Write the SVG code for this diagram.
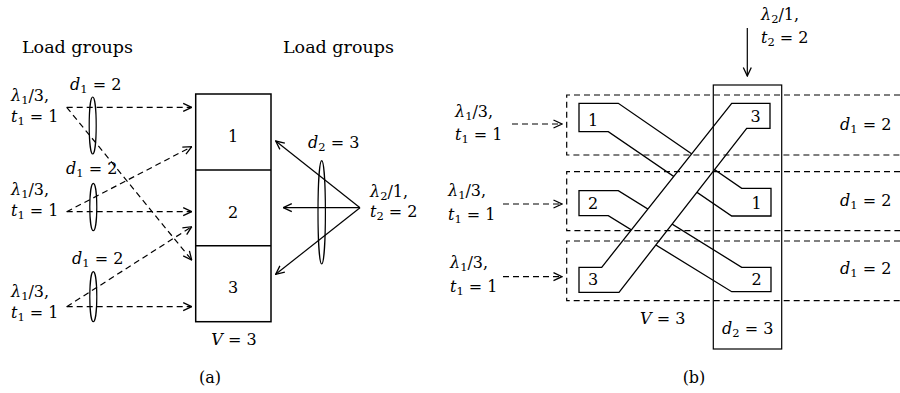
<svg xmlns="http://www.w3.org/2000/svg" width="900" height="393" viewBox="0 0 900 393">
<defs>
<style>
text{font-family:"DejaVu Serif","Liberation Serif",serif;font-size:16px;fill:#000}
.lg{font-size:17.5px}
.i{font-style:italic}
.s{font-size:11.5px;font-style:normal}
.d{fill:none;stroke:#000;stroke-width:1.2;stroke-dasharray:6,4}
.l{fill:none;stroke:#000;stroke-width:1.2}
.b{fill:#fff;stroke:#000;stroke-width:1.3}
.r{fill:none;stroke:#000;stroke-width:1.5}
.e{fill:none;stroke:#000;stroke-width:1.2}
</style>
<marker id="ah" viewBox="0 0 10 10" refX="9.5" refY="5" markerWidth="10" markerHeight="10" markerUnits="userSpaceOnUse" orient="auto">
<path d="M1,1 L9.5,5 L1,9" fill="none" stroke="#000" stroke-width="1.3" stroke-dasharray="none"/>
</marker>
</defs>
<rect width="900" height="393" fill="#fff"/>

<!-- Panel (a) -->
<g id="a-labels">
<text class="lg" x="22" y="53">Load groups</text>
<text class="lg" x="283" y="53">Load groups</text>
<text x="210" y="383" text-anchor="middle">(a)</text>
</g>
<g id="a-group1">
<text x="11" y="101"><tspan class="i">λ</tspan><tspan class="s" dy="3">1</tspan><tspan dy="-3">/3,</tspan></text>
<text x="11" y="122"><tspan class="i">t</tspan><tspan class="s" dy="3">1</tspan><tspan dy="-3"> = 1</tspan></text>
<text x="70" y="90"><tspan class="i">d</tspan><tspan class="s" dy="3">1</tspan><tspan dy="-3"> = 2</tspan></text>
<ellipse class="e" cx="92.7" cy="125.5" rx="3.5" ry="28.5"/>
</g>
<g id="a-group2">
<text x="11" y="195"><tspan class="i">λ</tspan><tspan class="s" dy="3">1</tspan><tspan dy="-3">/3,</tspan></text>
<text x="11" y="216"><tspan class="i">t</tspan><tspan class="s" dy="3">1</tspan><tspan dy="-3"> = 1</tspan></text>
<text x="66" y="174"><tspan class="i">d</tspan><tspan class="s" dy="3">1</tspan><tspan dy="-3"> = 2</tspan></text>
<ellipse class="e" cx="93.3" cy="207" rx="3.5" ry="23.7"/>
</g>
<g id="a-group3">
<text x="11" y="297"><tspan class="i">λ</tspan><tspan class="s" dy="3">1</tspan><tspan dy="-3">/3,</tspan></text>
<text x="11" y="318"><tspan class="i">t</tspan><tspan class="s" dy="3">1</tspan><tspan dy="-3"> = 1</tspan></text>
<text x="72" y="264"><tspan class="i">d</tspan><tspan class="s" dy="3">1</tspan><tspan dy="-3"> = 2</tspan></text>
<ellipse class="e" cx="93.3" cy="296.7" rx="3.5" ry="25"/>
</g>
<g id="a-servers">
<rect class="r" x="195.7" y="94" width="75.3" height="227.7"/>
<line class="r" x1="195.7" y1="170" x2="271" y2="170"/>
<line class="r" x1="195.7" y1="245.7" x2="271" y2="245.7"/>
<text x="233" y="142" text-anchor="middle">1</text>
<text x="233" y="218" text-anchor="middle">2</text>
<text x="233" y="293" text-anchor="middle">3</text>
<text x="234" y="345" text-anchor="middle"><tspan class="i">V</tspan> = 3</text>
</g>
<g id="a-group4">
<text x="370" y="197"><tspan class="i">λ</tspan><tspan class="s" dy="3">2</tspan><tspan dy="-3">/1,</tspan></text>
<text x="370" y="217"><tspan class="i">t</tspan><tspan class="s" dy="3">2</tspan><tspan dy="-3"> = 2</tspan></text>
<text x="308" y="148"><tspan class="i">d</tspan><tspan class="s" dy="3">2</tspan><tspan dy="-3"> = 3</tspan></text>
<ellipse class="e" cx="321.7" cy="212.3" rx="3.7" ry="51.7"/>
</g>
<g id="a-connectors">
<line class="d" x1="66.7" y1="107.3" x2="191.7" y2="107.3" marker-end="url(#ah)"/>
<line class="d" x1="66.7" y1="107.3" x2="191.7" y2="260" marker-end="url(#ah)"/>
<line class="d" x1="66.7" y1="211.7" x2="191.7" y2="211.7" marker-end="url(#ah)"/>
<line class="d" x1="66.7" y1="211.7" x2="191.7" y2="146.7" marker-end="url(#ah)"/>
<line class="d" x1="66.7" y1="306.7" x2="191.7" y2="306.7" marker-end="url(#ah)"/>
<line class="d" x1="66.7" y1="306.7" x2="191.7" y2="226.7" marker-end="url(#ah)"/>
<line class="l" x1="360" y1="207.7" x2="275.7" y2="141" marker-end="url(#ah)"/>
<line class="l" x1="360" y1="207.7" x2="283.3" y2="207.7" marker-end="url(#ah)"/>
<line class="l" x1="360" y1="207.7" x2="275.7" y2="274.3" marker-end="url(#ah)"/>
</g>

<!-- Panel (b) -->
<g id="b-band1">
<polygon class="b" points="579,103.3 618.3,103.3 741.7,188.3 771,188.3 771,216 731.7,216 608.3,131.7 579,131.7"/>
<text x="588" y="126">1</text>
<text x="751.5" y="209">1</text>
</g>
<g id="b-band2">
<polygon class="b" points="579,190.7 618.3,190.7 741.7,267.3 771,267.3 771,291.7 731.7,291.7 608.3,215.7 579,215.7"/>
<text x="588" y="209">2</text>
<text x="751.5" y="285">2</text>
</g>
<g id="b-band3">
<polygon class="b" points="579,267.3 601.7,267.3 731.7,103.3 770,103.3 770,128.3 746.7,128.3 619,292.3 579,292.3"/>
<text x="588" y="285">3</text>
<text x="750.5" y="122">3</text>
</g>
<g id="b-groups">
<path class="d" d="M900,95 H566.7 V155 H900"/>
<path class="d" d="M900,171.7 H566.7 V230.7 H900"/>
<path class="d" d="M900,241 H566.7 V300.7 H900"/>
<rect class="l" x="713.3" y="85" width="68.4" height="264"/>
<text x="840" y="130"><tspan class="i">d</tspan><tspan class="s" dy="3">1</tspan><tspan dy="-3"> = 2</tspan></text>
<text x="840" y="206"><tspan class="i">d</tspan><tspan class="s" dy="3">1</tspan><tspan dy="-3"> = 2</tspan></text>
<text x="840" y="274"><tspan class="i">d</tspan><tspan class="s" dy="3">1</tspan><tspan dy="-3"> = 2</tspan></text>
<text x="722" y="334"><tspan class="i">d</tspan><tspan class="s" dy="3">2</tspan><tspan dy="-3"> = 3</tspan></text>
<text x="640" y="324"><tspan class="i">V</tspan> = 3</text>
<text x="694" y="383" text-anchor="middle">(b)</text>
</g>
<g id="b-sources">
<text x="455" y="117"><tspan class="i">λ</tspan><tspan class="s" dy="3">1</tspan><tspan dy="-3">/3,</tspan></text>
<text x="455" y="140"><tspan class="i">t</tspan><tspan class="s" dy="3">1</tspan><tspan dy="-3"> = 1</tspan></text>
<text x="448" y="196"><tspan class="i">λ</tspan><tspan class="s" dy="3">1</tspan><tspan dy="-3">/3,</tspan></text>
<text x="448" y="220"><tspan class="i">t</tspan><tspan class="s" dy="3">1</tspan><tspan dy="-3"> = 1</tspan></text>
<text x="450" y="268"><tspan class="i">λ</tspan><tspan class="s" dy="3">1</tspan><tspan dy="-3">/3,</tspan></text>
<text x="450" y="292"><tspan class="i">t</tspan><tspan class="s" dy="3">1</tspan><tspan dy="-3"> = 1</tspan></text>
<text x="761" y="20"><tspan class="i">λ</tspan><tspan class="s" dy="3">2</tspan><tspan dy="-3">/1,</tspan></text>
<text x="761" y="43"><tspan class="i">t</tspan><tspan class="s" dy="3">2</tspan><tspan dy="-3"> = 2</tspan></text>
</g>
<g id="b-connectors">
<line class="d" x1="512" y1="124" x2="562" y2="124" marker-end="url(#ah)"/>
<line class="d" x1="503" y1="204" x2="562" y2="204" marker-end="url(#ah)"/>
<line class="d" x1="503" y1="276.7" x2="562" y2="276.7" marker-end="url(#ah)"/>
<line class="l" x1="747.3" y1="28" x2="747.3" y2="76" marker-end="url(#ah)"/>
</g>
</svg>
